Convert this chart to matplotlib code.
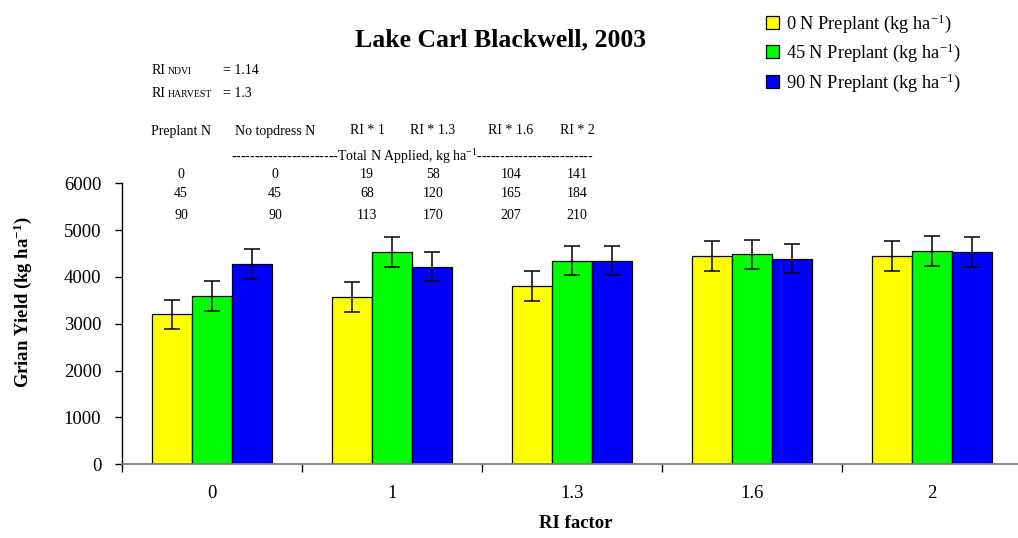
import numpy as np
import matplotlib
matplotlib.use("Agg")
import matplotlib.pyplot as plt
from matplotlib.patches import Patch

plt.rcParams['font.family'] = ['Liberation Serif', 'DejaVu Serif']
plt.rcParams['mathtext.fontset'] = 'custom'
plt.rcParams['mathtext.rm'] = 'Liberation Serif'
plt.rcParams['mathtext.bf'] = 'Liberation Serif:bold'
plt.rcParams['mathtext.it'] = 'Liberation Serif:italic'

# grain yield by RI factor and preplant N rate
ri_factor = ['0', '1', '1.3', '1.6', '2']
yield_0n = [3200, 3570, 3810, 4450, 4450]
yield_45n = [3590, 4530, 4350, 4480, 4550]
yield_90n = [4280, 4220, 4350, 4390, 4530]
sed = 315
series_labels = ['0 N Preplant (kg ha$^{-1}$)',
                 '45 N Preplant (kg ha$^{-1}$)',
                 '90 N Preplant (kg ha$^{-1}$)']
colors = ['#ffff00', '#00ff00', '#0000ff']

# total N applied table
tbl_headers = ['Preplant N', 'No topdress N', 'RI * 1', 'RI * 1.3', 'RI * 1.6', 'RI * 2']
tbl_rows = [[0, 0, 19, 58, 104, 141],
            [45, 45, 68, 120, 165, 184],
            [90, 90, 113, 170, 207, 210]]
ri_ndvi = 1.14
ri_harvest = 1.3

W, H = 1018, 538
fig = plt.figure(figsize=(W / 100, H / 100), dpi=100)

def fx(px):
    return px / W

def fy(py):
    return 1 - py / H

ax = fig.add_axes([fx(122), fy(464.3), 900 / W, 281 / H])

x = np.arange(len(ri_factor))
bw = 0.222
for i, (vals, c) in enumerate(zip([yield_0n, yield_45n, yield_90n], colors)):
    ax.bar(x + (i - 1) * bw, vals, bw, color=c, edgecolor='black', linewidth=0.9,
           yerr=sed, capsize=5.5, error_kw=dict(elinewidth=1.1, capthick=1.1, ecolor='black'),
           zorder=2)

ax.set_xlim(-0.5, len(ri_factor) - 0.5)
ax.set_ylim(0, 6000)
ax.set_yticks(np.arange(0, 6001, 1000))
ax.set_xticks(np.arange(-0.5, len(ri_factor), 1.0))
ax.set_xticklabels([])
ax.set_xticks(x, minor=True)
ax.set_xticklabels(ri_factor, minor=True)
ax.tick_params(axis='x', which='minor', length=0, pad=15, labelsize=13.5)
ax.tick_params(axis='x', which='major', length=6, direction='out', width=1, color='black')
ax.tick_params(axis='y', length=5, direction='out', width=1, labelsize=13.5, pad=10)
for s in ['top', 'right']:
    ax.spines[s].set_visible(False)
ax.spines['left'].set_linewidth(1)
ax.spines['bottom'].set_color('#808080')
ax.spines['bottom'].set_linewidth(1.3)

fig.text(fx(23), fy(302), 'Grian Yield (kg ha$^{\\mathbf{-1}}$)', rotation=90,
         ha='center', va='center', fontsize=13.4, fontweight='bold')
fig.text(fx(576), fy(523), 'RI factor', ha='center', va='center',
         fontsize=13.5, fontweight='bold')
fig.text(fx(501), fy(40), 'Lake Carl Blackwell, 2003', ha='center', va='center',
         fontsize=18.5, fontweight='bold')

handles = [Patch(facecolor=c, edgecolor='black', linewidth=0.9) for c in colors]
fig.legend(handles, series_labels, loc='upper left', bbox_to_anchor=(fx(759), fy(5)),
           frameon=False, fontsize=13.2, handlelength=0.7, handleheight=0.7,
           handletextpad=0.35, labelspacing=0.38, borderaxespad=0)

# RI values and table of N applied
small = 10
fig.text(fx(151.7), fy(70), 'RI', fontsize=small, va='center')
fig.text(fx(168), fy(71.5), 'NDVI', fontsize=7, va='center')
fig.text(fx(223), fy(70), '= %.2f' % ri_ndvi, fontsize=small, va='center')
fig.text(fx(151.7), fy(93.3), 'RI', fontsize=small, va='center')
fig.text(fx(168), fy(94.8), 'HARVEST', fontsize=7, va='center')
fig.text(fx(223), fy(93.3), '= %g' % ri_harvest, fontsize=small, va='center')

col_x = [181, 275, 367, 433, 511, 577]
for cx, h in zip(col_x, tbl_headers):
    fig.text(fx(cx), fy(131), h, fontsize=small, ha='center', va='center')
fig.text(fx(412), fy(157),
         '-' * 23 + 'Total N Applied, kg ha$^{-1}$' + '-' * 25,
         fontsize=small, ha='center', va='center')
for row, ry in zip(tbl_rows, [175, 194, 215.5]):
    for cx, v in zip(col_x, row):
        fig.text(fx(cx), fy(ry), str(v), fontsize=small, ha='center', va='center')

fig.savefig('out.png', dpi=100)
